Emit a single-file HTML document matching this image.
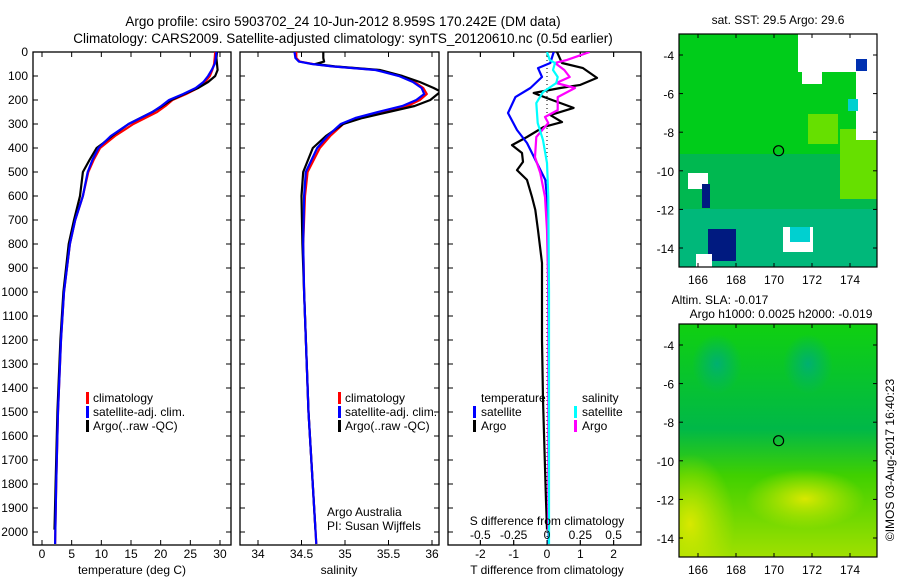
<!DOCTYPE html>
<html><head><meta charset="utf-8"><style>
body{margin:0;background:#fff;}
svg{display:block;font-family:"Liberation Sans",sans-serif;}
</style></head><body>
<svg id="c" width="900" height="580" xmlns="http://www.w3.org/2000/svg">
<text x="343" y="26" font-size="13.5" text-anchor="middle">Argo profile: csiro 5903702_24 10-Jun-2012 8.959S 170.242E (DM data)</text>
<text x="343" y="43" font-size="13.5" text-anchor="middle">Climatology: CARS2009. Satellite-adjusted climatology: synTS_20120610.nc (0.5d earlier)</text>
<g id="maps"></g>
<text transform="translate(894,460) rotate(-90)" font-size="12" text-anchor="middle">©IMOS 03-Aug-2017 16:40:23</text>
</svg>
<script>
// ---- data ----
const tDepth=[0,25,50,75,100,125,150,175,200,225,250,300,350,400,450,500,600,700,800,1000,1200,1500,1800,2050];
const tClim=[29.2,29.1,29.0,28.7,28.3,27.5,26.3,24.3,22.0,20.8,19.4,15.4,12.3,9.8,8.7,7.8,6.9,5.6,4.7,3.7,3.2,2.7,2.4,2.2];
const tSat =[29.4,29.3,29.1,28.6,28.0,27.2,25.9,23.8,21.4,20.1,18.6,14.6,11.6,9.5,8.5,7.7,6.9,5.6,4.7,3.7,3.2,2.7,2.4,2.2];
const argoDepth=[0,25,50,75,100,125,150,175,200,225,250,300,350,380,400,450,500,600,700,800,1000,1200,1500,1800,1990];
const tArgo=[29.5,29.4,29.5,29.6,29.2,28.0,26.3,24.0,21.8,20.3,18.6,14.6,11.8,10.3,9.2,8.0,6.9,6.4,5.4,4.5,3.6,3.1,2.6,2.3,2.1];
const sDepth=[0,25,40,50,60,75,100,125,150,175,200,225,250,275,300,350,400,500,600,800,1000,1500,2050];
const sClim=[34.44,34.44,34.48,34.63,34.86,35.37,35.63,35.8,35.9,35.94,35.86,35.72,35.44,35.17,34.98,34.83,34.71,34.57,34.54,34.52,34.53,34.58,34.67];
const sSat =[34.42,34.43,34.47,34.62,34.85,35.35,35.62,35.78,35.88,35.91,35.82,35.66,35.38,35.12,34.95,34.8,34.68,34.55,34.53,34.52,34.53,34.58,34.67];
const sArgoD=[0,25,40,50,60,75,100,125,150,165,200,225,250,275,300,350,400,500,600,800,1000,1500,1990];
const sArgo=[34.75,34.75,34.76,34.66,34.88,35.4,35.66,35.86,36.02,36.1,35.98,35.8,35.5,35.2,34.98,34.78,34.63,34.52,34.5,34.51,34.53,34.58,34.66];
const dTDepth=[0,46,67,108,137,150,171,192,233,263,292,312,354,388,421,458,492,533,604,658,742,879,1200,1450,1870,1990];
const dTArgo=[0.3,0.45,1.08,1.5,1.0,0.4,-0.4,0,0.8,0.1,0.45,-0.1,-0.6,-1.05,-0.75,-0.72,-0.9,-0.6,-0.45,-0.35,-0.27,-0.15,-0.15,-0.12,-0.03,0];
const dTSDepth=[0,46,67,104,150,188,254,325,379,463,533,604,800,1200,2050];
const dTSat=[0.2,0.1,-0.27,-0.15,-0.5,-0.95,-1.17,-0.9,-0.6,-0.3,-0.05,0,0.03,0.05,0.05];
const dSDepth=[0,33,46,75,104,129,150,188,242,271,296,354,438,504,604,742,1000,1500,1990];
const dSArgo=[0.32,0.15,0.06,0.13,0.17,0.07,0.21,0.08,0.08,-0.015,0.01,-0.08,-0.09,-0.05,-0.015,0,0.01,0.01,0.01];
const dSSDepth=[0,33,46,75,104,129,167,213,296,367,463,604,1000,2050];
const dSSat=[0,0.02,0.06,0.045,0.08,0.07,-0.03,-0.08,-0.07,-0.03,0,0.01,0.015,0.015];
const depthTicks=[0,100,200,300,400,500,600,700,800,900,1000,1100,1200,1300,1400,1500,1600,1700,1800,1900,2000];
const tTicks=[0,5,10,15,20,25,30];
const sTicks=[34,34.5,35,35.5,36];
const dTTicks=[-2,-1,0,1,2];
const dSTicks=[-0.5,-0.25,0,0.25,0.5];
const dSTickLabels=["-0.5","-0.25","0","0.25","0.5"];
const lonTicks=[166,168,170,172,174];
const latTicks=[-4,-6,-8,-10,-12,-14];

const NS="http://www.w3.org/2000/svg";
const svg=document.getElementById('c');
function el(t,a,p){const e=document.createElementNS(NS,t);for(const k in a)e.setAttribute(k,a[k]);(p||svg).appendChild(e);return e;}
const Y0=52,YB=545;
const yD=d=>Y0+d*0.24;
const xT=v=>42+(v-0)*5.933;
const xS=v=>258+(v-34)*87;
const xdT=v=>547+v*33.3;
const xdS=v=>547+v*133.3;

function panel(x0,x1,name){
  const g=el('g',{});
  
  
  const cp=el('clipPath',{id:name+'-clip'},g);el('rect',{x:x0,y:Y0,width:x1-x0,height:YB-Y0},cp);
  const r=el('rect',{x:x0,y:Y0,width:x1-x0,height:YB-Y0,fill:'none',stroke:'#000','stroke-width':1.3},g);
  
  
  return g;
}
function line(g,xs,ds,xf,color,name,w){
  const pts=xs.map((v,i)=>xf(v).toFixed(1)+','+yD(ds[i]).toFixed(1)).join(' ');
  const p=el('polyline',{points:pts,fill:'none',stroke:color,'stroke-width':w||2.2,'stroke-linejoin':'round'},g);
  
  
}
function xticks(g,ticks,labels,xf,ylab){
  ticks.forEach((t,i)=>{
    const x=xf(t);
    el('line',{x1:x,x2:x,y1:Y0,y2:Y0+5,stroke:'#000'},g);
    el('line',{x1:x,x2:x,y1:YB,y2:YB-5,stroke:'#000'},g);
    if(labels){const tx=el('text',{x:x,y:ylab,'font-size':12,'text-anchor':'middle'},g);tx.textContent=labels[i];
    
    }
  });
}
function ytick(g,x0,x1,lab){
  depthTicks.forEach(d=>{
    const y=yD(d);
    el('line',{x1:x0,x2:x0+5,y1:y,y2:y,stroke:'#000'},g);
    el('line',{x1:x1,x2:x1-5,y1:y,y2:y,stroke:'#000'},g);
    if(lab){const t=el('text',{x:28,y:y+4,'font-size':12,'text-anchor':'end'},g);t.textContent=d;
    
    }
  });
}
function txt(g,x,y,s,name,anchor){const t=el('text',{x:x,y:y,'font-size':12,'text-anchor':anchor||'start'},g);t.textContent=s;
  
  return t;}
function mark(g,x,y,c){el('rect',{x:x,y:y-10,width:3,height:12,fill:c},g);}

// panel 1
let g=panel(33,231,'temperature-panel');
ytick(g,33,231,true);
xticks(g,tTicks,tTicks.map(String),xT,558);
let lg1=el('g',{'clip-path':'url(#temperature-panel-clip)'},g);
line(lg1,tClim,tDepth,xT,'#f00','temp-climatology-line');
line(lg1,tArgo,argoDepth,xT,'#000','temp-argo-line');
line(lg1,tSat,tDepth,xT,'#00f','temp-satellite-line');
txt(g,132,574,'temperature (deg C)','temp-x-axis-title','middle');
mark(g,86,402,'#f00');txt(g,93,402,'climatology','legend-climatology');
mark(g,86,416,'#00f');txt(g,93,416,'satellite-adj. clim.','legend-satellite');
mark(g,86,430,'#000');txt(g,93,430,'Argo(..raw -QC)','legend-argo');

// panel 2
g=panel(240,439,'salinity-panel');
ytick(g,240,439,false);
xticks(g,sTicks,sTicks.map(String),xS,558);
let lg2=el('g',{'clip-path':'url(#salinity-panel-clip)'},g);
line(lg2,sClim,sDepth,xS,'#f00','sal-climatology-line');
line(lg2,sArgo,sArgoD,xS,'#000','sal-argo-line');
line(lg2,sSat,sDepth,xS,'#00f','sal-satellite-line');
txt(g,339,574,'salinity','sal-x-axis-title','middle');
mark(g,338,402,'#f00');txt(g,345,402,'climatology','legend-climatology-2');
mark(g,338,416,'#00f');txt(g,345,416,'satellite-adj. clim.','legend-satellite-2');
mark(g,338,430,'#000');txt(g,345,430,'Argo(..raw -QC)','legend-argo-2');
txt(g,327,516,'Argo Australia','credit-line-1');
txt(g,327,530,'PI: Susan Wijffels','credit-line-2');

// panel 3
g=panel(448,641,'difference-panel');
ytick(g,448,641,false);
xticks(g,dTTicks,dTTicks.map(String),xdT,558);
xticks(g,dSTicks,null,xdS,0);
const zl=el('line',{x1:547,x2:547,y1:Y0,y2:YB,stroke:'#000','stroke-dasharray':'1,3'},g);


let lg3=el('g',{'clip-path':'url(#difference-panel-clip)'},g);
line(lg3,dTArgo,dTDepth,xdT,'#000','t-diff-argo-line');
line(lg3,dTSat,dTSDepth,xdT,'#00f','t-diff-satellite-line');
line(lg3,dSArgo,dSDepth,xdS,'#f0f','s-diff-argo-line');
line(lg3,dSSat,dSSDepth,xdS,'#0ff','s-diff-satellite-line');
txt(g,481,402,'temperature','legend-temperature-head');
mark(g,473,416,'#00f');txt(g,481,416,'satellite','legend-t-satellite');
mark(g,473,430,'#000');txt(g,481,430,'Argo','legend-t-argo');
txt(g,582,402,'salinity','legend-salinity-head');
mark(g,574,416,'#0ff');txt(g,582,416,'satellite','legend-s-satellite');
mark(g,574,430,'#f0f');txt(g,582,430,'Argo','legend-s-argo');
txt(g,547,525,'S difference from climatology','s-diff-axis-title','middle');
dSTicks.forEach((t,i)=>{txt(g,xdS(t),539,dSTickLabels[i],'s-diff-tick-label','middle');});
txt(g,547,574,'T difference from climatology','t-diff-axis-title','middle');

// maps
const xLon=v=>698+(v-166)*19;
function map(y0,yLat,title1,title2,name,kind){
  const mg=el('g',{});
  
  
  const yl=v=>yLat+(-4-v)*19.3;
  const H=233,X0=679,W=198;
  const cid=name+'-clip';
  const cp=el('clipPath',{id:cid},mg);el('rect',{x:X0,y:y0,width:W,height:H},cp);
  const body=el('g',{'clip-path':'url(#'+cid+')'},mg);
  if(kind==='sst'){
    el('rect',{x:X0,y:y0,width:W,height:H,fill:'#00cc1a'},body);
    el('rect',{x:X0,y:y0+120,width:W,height:H-120,fill:'#00b850'},body);
    el('rect',{x:X0,y:y0+175,width:W,height:60,fill:'#00b87a'},body);
    el('rect',{x:840,y:y0+95,width:40,height:70,fill:'#66e000'},body);
    el('rect',{x:808,y:y0+80,width:30,height:30,fill:'#66e000'},body);
    el('rect',{x:798,y:y0,width:80,height:38,fill:'#fff'},body);
    el('rect',{x:802,y:y0,width:20,height:50,fill:'#fff'},body);
    el('rect',{x:856,y:y0+38,width:22,height:68,fill:'#fff'},body);
    el('rect',{x:856,y:y0+25,width:11,height:12,fill:'#0030b0'},body);
    el('rect',{x:848,y:y0+65,width:10,height:12,fill:'#00d0d0'},body);
    el('rect',{x:783,y:y0+193,width:30,height:25,fill:'#fff'},body);
    el('rect',{x:790,y:y0+193,width:20,height:15,fill:'#00d0d0'},body);
    el('rect',{x:688,y:y0+139,width:20,height:16,fill:'#fff'},body);
    el('rect',{x:702,y:y0+150,width:8,height:24,fill:'#001a80'},body);
    el('rect',{x:708,y:y0+195,width:28,height:32,fill:'#001a80'},body);
    el('rect',{x:696,y:y0+220,width:16,height:13,fill:'#fff'},body);
  } else {
    const dg=el('defs',{},mg);
    const rg=el('radialGradient',{id:'yl1'},dg);el('stop',{offset:'0','stop-color':'#d8e800'},rg);el('stop',{offset:'1','stop-color':'#c8e800','stop-opacity':0},rg);
    const rg2=el('radialGradient',{id:'tl1'},dg);el('stop',{offset:'0','stop-color':'#00b070'},rg2);el('stop',{offset:'1','stop-color':'#00b070','stop-opacity':0},rg2);
    const lg=el('linearGradient',{id:'slg',x1:0,y1:0,x2:0,y2:1},dg);el('stop',{offset:'0','stop-color':'#10d010'},lg);el('stop',{offset:'0.45','stop-color':'#00b848'},lg);el('stop',{offset:'0.65','stop-color':'#40d000'},lg);el('stop',{offset:'1','stop-color':'#a0e000'},lg);
    el('rect',{x:X0,y:y0,width:W,height:H,fill:'url(#slg)'},body);
    el('ellipse',{cx:690,cy:y0+200,rx:45,ry:70,fill:'url(#yl1)'},body);
    el('ellipse',{cx:805,cy:y0+175,rx:60,ry:30,fill:'url(#yl1)'},body);
    el('ellipse',{cx:717,cy:y0+40,rx:25,ry:30,fill:'url(#tl1)'},body);
    el('ellipse',{cx:808,cy:y0+40,rx:25,ry:30,fill:'url(#tl1)'},body);
  }
  el('rect',{x:X0,y:y0,width:W,height:H,fill:'none',stroke:'#000','stroke-width':1.2},mg);
  lonTicks.forEach(v=>{const x=xLon(v);
    el('line',{x1:x,x2:x,y1:y0,y2:y0+4,stroke:'#000'},mg);el('line',{x1:x,x2:x,y1:y0+H,y2:y0+H-4,stroke:'#000'},mg);
    txt(mg,x,y0+H+17,String(v),'lon-tick-label','middle');});
  latTicks.forEach(v=>{const y=yl(v);
    el('line',{x1:X0,x2:X0+4,y1:y,y2:y,stroke:'#000'},mg);el('line',{x1:X0+W,x2:X0+W-4,y1:y,y2:y,stroke:'#000'},mg);
    txt(mg,674,y+5,String(v),'lat-tick-label','end');});
  const pc=el('circle',{cx:xLon(170.242),cy:yl(-8.959),r:5,fill:'none',stroke:'#000','stroke-width':1.2},mg);
  
  
  if(title2){txt(mg,720,y0-20,title1,'map-title-1','middle');txt(mg,781,y0-6,title2,'map-title-2','middle');}
  else txt(mg,778,y0-10,title1,'map-title','middle');
}
map(34,55,'sat. SST: 29.5 Argo: 29.6',null,'sst-map','sst');
map(324,345,'Altim. SLA: -0.017','Argo h1000: 0.0025 h2000: -0.019','sla-map','sla');
</script>
</body></html>
